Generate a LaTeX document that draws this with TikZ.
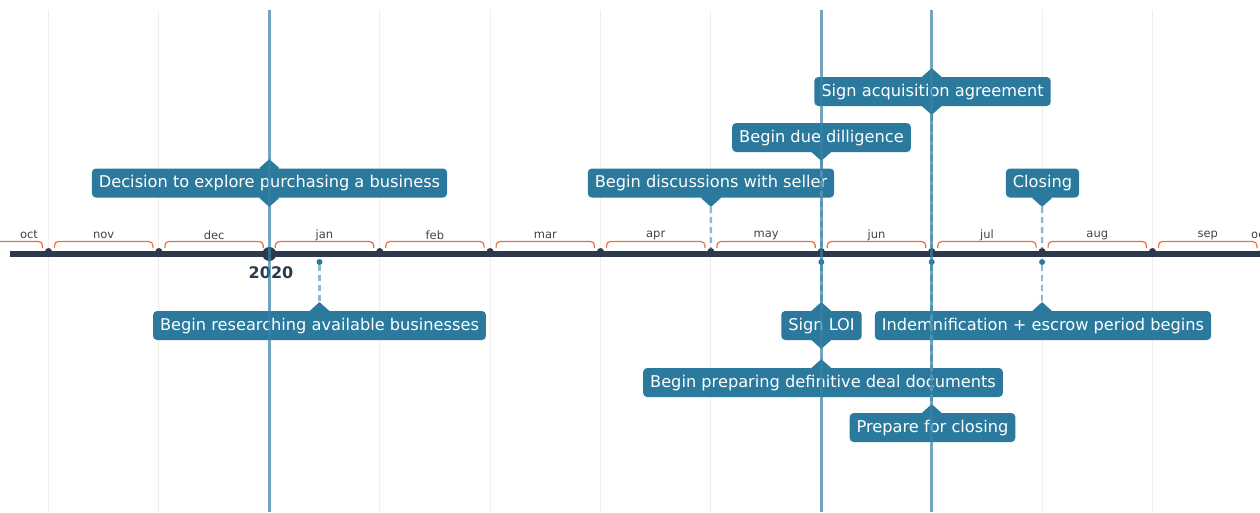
\documentclass[tikz,border=0pt]{standalone}
\usepackage{fontspec}
\setmainfont{DejaVu Sans}
\usetikzlibrary{shapes.geometric}
\definecolor{axisdark}{HTML}{2C3A4B}
\definecolor{eventblue}{HTML}{2B7A9E}
\definecolor{linkblue}{HTML}{8DBAD0}
\definecolor{markline}{HTML}{3A82A8}
\definecolor{bracecol}{HTML}{E2714A}
\definecolor{gridgray}{HTML}{EEEEEE}
\definecolor{monthtext}{HTML}{444444}
\tikzstyle{event box}=[fill=eventblue,text=white,rounded corners=4pt,inner xsep=7pt,inner ysep=0pt,minimum height=29pt,text depth=3pt,font=\fontsize{16.2}{18}\selectfont]
\tikzstyle{event tip}=[diamond,fill=eventblue,minimum width=20pt,minimum height=18pt,inner sep=0pt]
\tikzstyle{month dot}=[circle,fill=axisdark,minimum size=7pt,inner sep=0pt]
\tikzstyle{event dot}=[circle,fill=eventblue,minimum size=6pt,inner sep=0pt]
\tikzstyle{month name}=[text=monthtext,font=\fontsize{11.5}{13}\selectfont,inner sep=0pt]
\tikzstyle{link}=[draw=linkblue,line width=2.5pt,dash pattern=on 6pt off 4pt]
\tikzstyle{marker line}=[draw=markline,line width=3pt,opacity=0.7]

\begin{document}
\begin{tikzpicture}[x=1pt,y=-1pt]
  \useasboundingbox (0,0) rectangle (1260,512);
  \clip (0,0) rectangle (1260,512);
  % month grid
  \foreach \i in {-1,...,11}
    \draw[gridgray,line width=1pt] (48.5+110.4*\i,10) -- (48.5+110.4*\i,512);
  % month braces
  \foreach \m [count=\i from -1, evaluate=\i as \x using 48.5+110.4*\i] in {oct,nov,dec,jan,feb,mar,apr,may,jun,jul,aug,sep,oct}
    \draw[bracecol,line width=1.2pt,rounded corners=4pt] (\x+6,248) -- (\x+6,241.5) -- (\x+104.4,241.5) -- (\x+104.4,248);
  \foreach \m [count=\i from 0, evaluate=\i as \x using 103.7+110.4*\i] in {nov,dec,jan,feb,mar,apr,may,jun,jul,aug,sep}
    \node[month name] (name\i) at (\x,235) {\m};
  \node[month name] (name-1) at (29,235) {oct};
  \node[month name,anchor=west] (name11) at (1251,235) {oct};

  % axis
  \draw[axisdark,line width=6pt] (10,254) -- (1262,254);
  \foreach \i in {0,...,11}
    \node[month dot] (m\i) at (48.5+110.4*\i,251.5) {};
  \node[circle,fill=axisdark,minimum size=14pt,inner sep=0pt] (year) at (269.3,254) {};
  \node[text=axisdark,font=\fontsize{16}{18}\selectfont\bfseries] (yearlabel) at (271,273) {2020};

  % events above the axis
  \node[event tip] (decide-n) at (269.3,168) {};
  \node[event tip] (decide-s) at (269.3,198) {};
  \node[event box] (decide) at (269.5,183) {Decision to explore purchasing a business};
  \node[event tip] (discuss-s) at (710.9,198) {};
  \node[event box] (discuss) at (711,183) {Begin discussions with seller};
  \node[event tip] (diligence-s) at (821.3,152) {};
  \node[event box] (diligence) at (821.5,137.5) {Begin due dilligence};
  \node[event tip] (agreement-n) at (931.7,77) {};
  \node[event tip] (agreement-s) at (931.7,106) {};
  \node[event box] (agreement) at (932.5,91.5) {Sign acquisition agreement};
  \node[event tip] (closing-s) at (1042.1,198) {};
  \node[event box] (closing) at (1042.5,183) {Closing};

  % events below the axis
  \node[event dot] (research-d) at (319.5,262) {};
  \node[event tip] (research-n) at (319.5,311) {};
  \node[event box] (research) at (319.5,325.5) {Begin researching available businesses};
  \node[event dot] (loi-d) at (821.3,262) {};
  \node[event tip] (loi-n) at (821.3,311) {};
  \node[event tip] (loi-s) at (821.3,340) {};
  \node[event box] (loi) at (821.5,325.5) {Sign LOI};
  \node[event tip] (definitive-n) at (821.3,368) {};
  \node[event box] (definitive) at (823,382.5) {Begin preparing definitive deal documents};
  \node[event dot] (prepare-d) at (931.7,262) {};
  \node[event tip] (prepare-n) at (931.7,413) {};
  \node[event box] (prepare) at (932.5,427.5) {Prepare for closing};
  \node[event dot] (indemn-d) at (1042.1,262) {};
  \node[event tip] (indemn-n) at (1042.1,311) {};
  \node[event box] (indemn) at (1043,325.5) {Indemnification + escrow period begins};

  % connectors
  \draw[link] (discuss-s.south) -- (m6);
  \draw[link] (diligence-s.south) -- (m7);
  \draw[link] (agreement-s.south) -- (m8);
  \draw[link] (closing-s.south) -- (m9);
  \draw[link] (research-d) -- (research-n.north);
  \draw[link] (loi-d) -- (loi-n.north);
  \draw[link] (prepare-d) -- (prepare-n.north);
  \draw[link] (indemn-d) -- (indemn-n.north);

  % highlighted dates
  \foreach \x in {269.3,821.3,931.7}
    \draw[marker line] (\x,10) -- (\x,512);
\end{tikzpicture}
\end{document}
